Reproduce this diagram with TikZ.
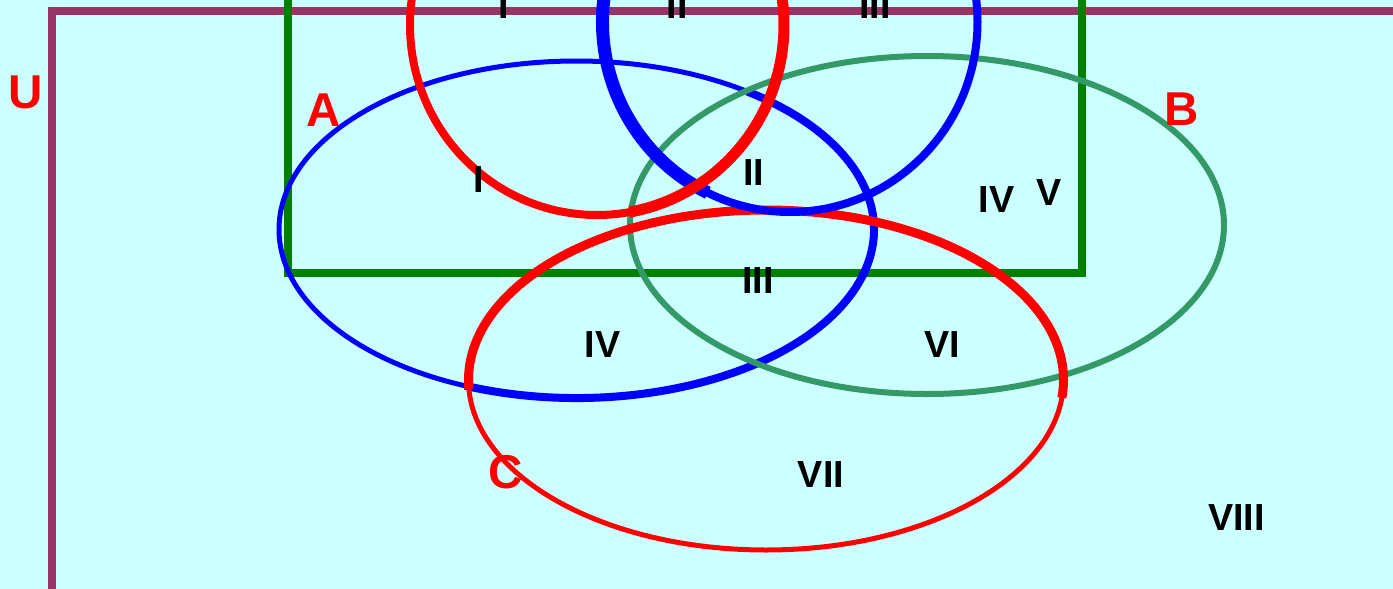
\documentclass[tikz,border=0pt]{standalone}
\usepackage{fontspec}
\setmainfont{Liberation Sans}
\usetikzlibrary{calc}
\definecolor{bgcyan}{HTML}{CCFFFF}
\definecolor{framepurple}{HTML}{993366}
\definecolor{rectgreen}{HTML}{008000}
\definecolor{setblue}{HTML}{0000FF}
\definecolor{setgreen}{HTML}{339966}
\definecolor{setred}{HTML}{FF0000}
\begin{document}
\begin{tikzpicture}[x=1pt,y=-1pt,
  lbl/.style={font=\fontsize{37.7}{40}\selectfont\bfseries, text=black, anchor=base, inner sep=0pt},
  setlbl/.style={font=\fontsize{47.5}{50}\selectfont\bfseries, text=setred, anchor=base, inner sep=0pt}]
\useasboundingbox (0,0) rectangle (1393,589);
\clip (0,0) rectangle (1393,589);
\fill[bgcyan] (0,0) rectangle (1393,589);
% universe frame
\draw[framepurple, line width=7.5pt] (52,600) -- (52,11) -- (1400,11);
% green rectangle
\draw[rectgreen, line width=8pt] (288,-20) -- (288,273) -- (1082,273) -- (1082,-20);
% centres
\coordinate (cA) at (576.5,229.5);
\coordinate (cB) at (927,225);
\coordinate (cC) at (766,380);
\coordinate (cR) at (597,25);
\coordinate (cT) at (790,22);
% ellipse A (blue)
\draw[setblue, line width=5pt] (cA) ellipse [x radius=297.5pt, y radius=168.5pt];
\draw[setblue, line width=8pt] ($(cA)+(-112:297.5pt and 168.5pt)$) arc[start angle=-112, end angle=55, x radius=297.5pt, y radius=168.5pt];
% ellipse B (green)
\draw[setgreen, line width=6pt] (cB) ellipse [x radius=297pt, y radius=169pt];
% ellipse C (red)
\draw[setred, line width=5pt] (cC) ellipse [x radius=297.5pt, y radius=170pt];
\draw[setred, line width=9pt] ($(cC)+(-6:297.5pt and 170pt)$) arc[start angle=-6, end angle=183, x radius=297.5pt, y radius=170pt];
% top blue circle
\draw[setblue, line width=8pt] (cT) ellipse [x radius=187.5pt, y radius=190pt];
\draw[setblue, line width=13pt] ($(cT)+(165:187.5pt and 190pt)$) arc[start angle=165, end angle=244, x radius=187.5pt, y radius=190pt];
% top red circle
\draw[setred, line width=8pt] (cR) ellipse [x radius=187pt, y radius=190pt];
\draw[setred, line width=11pt] ($(cR)+(-80:187pt and 190pt)$) arc[start angle=-80, end angle=30, x radius=187pt, y radius=190pt];
% set labels
\node[setlbl] (lU) at (26,108) {U};
\node[setlbl] (lA) at (323.5,126) {A};
\node[setlbl] (lB) at (1181.5,125) {B};
\node[setlbl] (lC) at (506,488) {C};
% region labels
\node[lbl] (t1) at (504,19) {I};
\node[lbl] (t2) at (677,19) {II};
\node[lbl] (t3) at (875,19) {III};
\node[lbl] (r1) at (478.5,192) {I};
\node[lbl] (r2) at (753.5,185) {II};
\node[lbl] (r4a) at (996.5,212) {IV};
\node[lbl] (r5) at (1049,205) {V};
\node[lbl] (r3) at (758,293) {III};
\node[lbl] (r4) at (602.5,357) {IV};
\node[lbl] (r6) at (942,357) {VI};
\node[lbl] (r7) at (821,487) {VII};
\node[lbl] (r8) at (1236.5,530) {VIII};
\end{tikzpicture}
\end{document}
